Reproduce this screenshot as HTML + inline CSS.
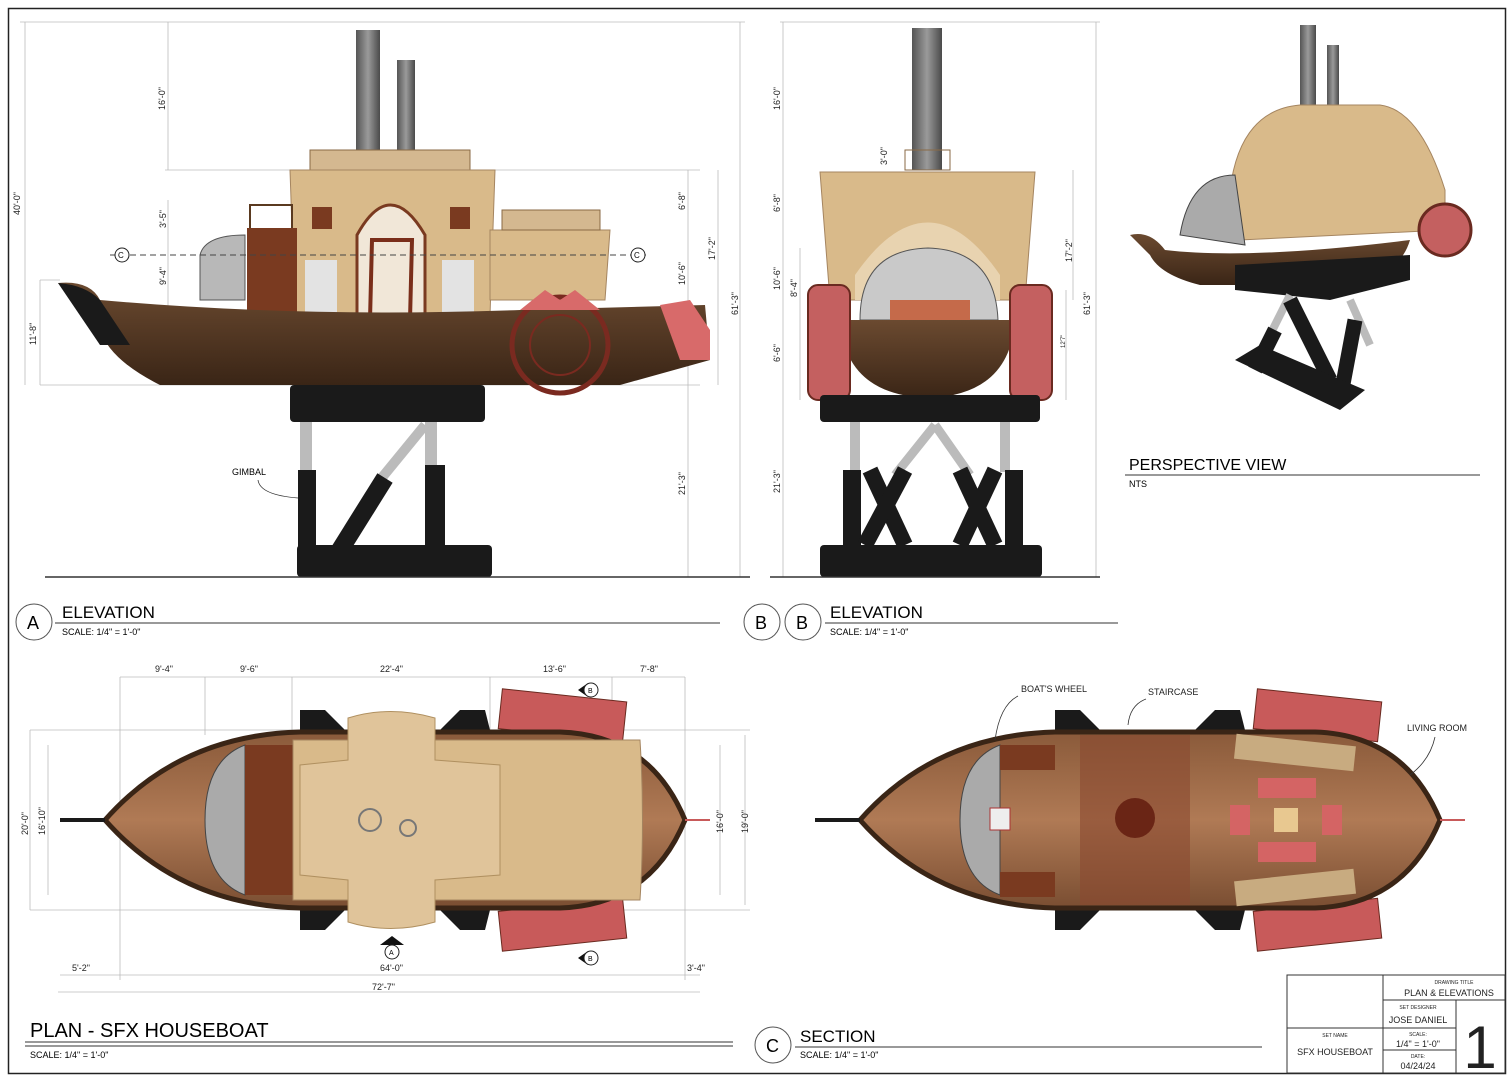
<!DOCTYPE html>
<html><head><meta charset="utf-8"><style>
html,body{margin:0;padding:0;background:#fff;}
svg{display:block;font-family:"Liberation Sans",sans-serif;}
</style></head><body>
<svg width="1512" height="1080" viewBox="0 0 1512 1080" xmlns="http://www.w3.org/2000/svg">
<defs>
<linearGradient id="hull" x1="0" y1="0" x2="0" y2="1"><stop offset="0" stop-color="#6b4a30"/><stop offset="1" stop-color="#3a2516"/></linearGradient>
<linearGradient id="stack" x1="0" y1="0" x2="1" y2="0"><stop offset="0" stop-color="#555"/><stop offset=".5" stop-color="#9a9a9a"/><stop offset="1" stop-color="#4a4a4a"/></linearGradient>
<linearGradient id="wood" x1="0" y1="0" x2="0" y2="1"><stop offset="0" stop-color="#8a5a3a"/><stop offset=".5" stop-color="#b07a55"/><stop offset="1" stop-color="#7a4e32"/></linearGradient>
</defs>
<rect x="8.5" y="8.5" width="1497" height="1065" fill="none" stroke="#222" stroke-width="1.5"/>

<!-- ===== ELEVATION A ===== -->
<g stroke="#bbb" stroke-width="0.8" fill="none">
<line x1="20" y1="22" x2="745" y2="22"/><line x1="165" y1="170" x2="700" y2="170"/>
<line x1="40" y1="280" x2="60" y2="280"/><line x1="40" y1="385" x2="700" y2="385"/>
<line x1="25" y1="22" x2="25" y2="385"/><line x1="40" y1="280" x2="40" y2="385"/>
<line x1="168" y1="22" x2="168" y2="170"/><line x1="168" y1="200" x2="168" y2="235"/><line x1="168" y1="235" x2="168" y2="310"/>
<line x1="688" y1="170" x2="688" y2="577"/><line x1="718" y1="170" x2="718" y2="385"/><line x1="740" y1="22" x2="740" y2="577"/>
</g>
<g font-size="9" fill="#222">
<text transform="translate(20,215) rotate(-90)">40'-0"</text>
<text transform="translate(36,345) rotate(-90)">11'-8"</text>
<text transform="translate(165,110) rotate(-90)">16'-0"</text>
<text transform="translate(166,228) rotate(-90)">3'-5"</text>
<text transform="translate(166,285) rotate(-90)">9'-4"</text>
<text transform="translate(685,210) rotate(-90)">6'-8"</text>
<text transform="translate(685,285) rotate(-90)">10'-6"</text>
<text transform="translate(685,365) rotate(-90)">6'-6"</text>
<text transform="translate(685,495) rotate(-90)">21'-3"</text>
<text transform="translate(715,260) rotate(-90)">17'-2"</text>
<text transform="translate(738,315) rotate(-90)">61'-3"</text>
</g>
<!-- stacks -->
<rect x="356" y="30" width="24" height="145" fill="url(#stack)"/>
<rect x="397" y="60" width="18" height="100" fill="url(#stack)"/>
<!-- cabin -->
<rect x="310" y="150" width="160" height="20" fill="#d4b890" stroke="#8a6a45"/>
<path d="M290 170 L495 170 L490 315 L295 315 Z" fill="#d9ba8a" stroke="#a58560"/>
<path d="M357 320 L357 235 Q390 175 425 235 L425 320 Z" fill="#f1e7d8" stroke="#7a3a20" stroke-width="3"/>
<rect x="305" y="260" width="32" height="55" fill="#e3e3e3"/><rect x="442" y="260" width="32" height="55" fill="#e3e3e3"/>
<rect x="312" y="207" width="20" height="22" fill="#7a3a20"/><rect x="450" y="207" width="20" height="22" fill="#7a3a20"/>
<path d="M370 320 L372 240 L412 240 L410 320" fill="none" stroke="#7a2e1a" stroke-width="4"/>
<path d="M490 230 L610 230 L605 300 L490 300 Z" fill="#d9ba8a" stroke="#a58560"/>
<rect x="502" y="210" width="98" height="20" fill="#d4b890" stroke="#8a6a45"/>
<rect x="250" y="205" width="42" height="25" fill="none" stroke="#5a3a20" stroke-width="2"/>
<rect x="247" y="228" width="50" height="90" fill="#7a3a20"/>
<path d="M200 300 L200 255 Q205 235 245 235 L245 300 Z" fill="#b8b8b8" stroke="#555"/>
<!-- hull -->
<path d="M58 283 Q90 280 100 300 Q300 318 520 310 L705 305 L710 360 L620 385 L160 385 Q110 360 100 330 Z" fill="url(#hull)"/>
<path d="M58 283 Q85 285 100 300 L130 345 L100 345 Z" fill="#1a1a1a"/>
<path d="M660 305 L690 300 L710 330 L710 360 L680 360 Z" fill="#d86a6a"/>
<circle cx="560" cy="345" r="48" fill="none" stroke="#7a2a20" stroke-width="5"/>
<circle cx="560" cy="345" r="30" fill="none" stroke="#7a2a20" stroke-width="2"/>
<path d="M520 310 L545 290 L560 300 L575 290 L600 310" fill="#d86a6a"/>
<!-- section line -->
<line x1="110" y1="255" x2="650" y2="255" stroke="#444" stroke-dasharray="6 4"/>
<circle cx="122" cy="255" r="7" fill="#fff" stroke="#222"/><text x="118" y="258" font-size="8">C</text>
<circle cx="638" cy="255" r="7" fill="#fff" stroke="#222"/><text x="634" y="258" font-size="8">C</text>
<!-- stand -->
<rect x="290" y="385" width="195" height="37" rx="4" fill="#1a1a1a"/>
<rect x="300" y="422" width="12" height="50" fill="#bbb"/><rect x="425" y="422" width="12" height="50" fill="#bbb"/>
<line x1="425" y1="425" x2="380" y2="480" stroke="#bbb" stroke-width="10"/>
<rect x="298" y="470" width="18" height="80" fill="#1a1a1a"/><rect x="425" y="465" width="20" height="85" fill="#1a1a1a"/>
<line x1="385" y1="478" x2="340" y2="550" stroke="#1a1a1a" stroke-width="18"/>
<rect x="297" y="545" width="195" height="32" rx="4" fill="#1a1a1a"/>
<line x1="45" y1="577" x2="750" y2="577" stroke="#333" stroke-width="1.5"/>
<text x="232" y="475" font-size="9">GIMBAL</text>
<path d="M258 480 Q260 495 298 498" fill="none" stroke="#333" stroke-width="0.8"/>
<circle cx="34" cy="622" r="18" fill="#fff" stroke="#555"/><text x="27" y="629" font-size="18">A</text>
<text x="62" y="618" font-size="17">ELEVATION</text>
<line x1="55" y1="623" x2="720" y2="623" stroke="#333"/>
<text x="62" y="635" font-size="9">SCALE: 1/4" = 1'-0"</text>

<!-- ===== ELEVATION B ===== -->
<g stroke="#bbb" stroke-width="0.8" fill="none">
<line x1="780" y1="22" x2="1100" y2="22"/><line x1="783" y1="22" x2="783" y2="577"/>
<line x1="1073" y1="170" x2="1073" y2="300"/><line x1="1096" y1="22" x2="1096" y2="577"/>
<line x1="800" y1="248" x2="800" y2="400"/><line x1="1066" y1="290" x2="1066" y2="400"/>
</g>
<g font-size="9" fill="#222">
<text transform="translate(780,110) rotate(-90)">16'-0"</text>
<text transform="translate(887,165) rotate(-90)">3'-0"</text>
<text transform="translate(780,212) rotate(-90)">6'-8"</text>
<text transform="translate(780,290) rotate(-90)">10'-6"</text>
<text transform="translate(797,297) rotate(-90)">8'-4"</text>
<text transform="translate(780,362) rotate(-90)">6'-6"</text>
<text transform="translate(780,493) rotate(-90)">21'-3"</text>
<text transform="translate(1072,262) rotate(-90)">17'-2"</text>
<text transform="translate(1090,315) rotate(-90)">61'-3"</text>
<text transform="translate(1065,348) rotate(-90)" font-size="6">12'7"</text>
</g>
<rect x="912" y="28" width="30" height="142" fill="url(#stack)"/>
<rect x="905" y="150" width="45" height="20" fill="none" stroke="#8a6a45"/>
<path d="M820 172 L1035 172 L1025 300 L830 300 Z" fill="#d9ba8a" stroke="#a58560"/>
<path d="M855 300 L855 275 Q928 170 1000 275 L1000 300 Z" fill="#e8d3b0"/>
<path d="M860 320 Q860 250 928 248 Q995 250 998 320 Z" fill="#c9c9c9" stroke="#555"/>
<rect x="890" y="300" width="80" height="20" fill="#c56a4a"/>
<path d="M840 320 L1015 320 Q1010 395 928 398 Q845 395 840 320 Z" fill="url(#hull)"/>
<rect x="808" y="285" width="42" height="115" rx="10" fill="#c46060" stroke="#6a2a20" stroke-width="2"/>
<rect x="1010" y="285" width="42" height="115" rx="10" fill="#c46060" stroke="#6a2a20" stroke-width="2"/>
<rect x="820" y="395" width="220" height="27" rx="4" fill="#1a1a1a"/>
<rect x="850" y="422" width="10" height="50" fill="#bbb"/><rect x="1000" y="422" width="10" height="50" fill="#bbb"/>
<line x1="935" y1="425" x2="895" y2="475" stroke="#bbb" stroke-width="9"/><line x1="935" y1="425" x2="970" y2="475" stroke="#bbb" stroke-width="9"/>
<rect x="843" y="470" width="18" height="80" fill="#1a1a1a"/><rect x="1005" y="470" width="18" height="80" fill="#1a1a1a"/>
<line x1="870" y1="470" x2="905" y2="545" stroke="#1a1a1a" stroke-width="16"/><line x1="905" y1="470" x2="865" y2="545" stroke="#1a1a1a" stroke-width="16"/>
<line x1="960" y1="470" x2="995" y2="545" stroke="#1a1a1a" stroke-width="16"/><line x1="995" y1="470" x2="960" y2="545" stroke="#1a1a1a" stroke-width="16"/>
<rect x="820" y="545" width="222" height="32" rx="4" fill="#1a1a1a"/>
<line x1="770" y1="577" x2="1100" y2="577" stroke="#333" stroke-width="1.5"/>
<circle cx="762" cy="622" r="18" fill="#fff" stroke="#555"/><text x="755" y="629" font-size="18">B</text>
<circle cx="803" cy="622" r="18" fill="#fff" stroke="#555"/><text x="796" y="629" font-size="18">B</text>
<text x="830" y="618" font-size="17">ELEVATION</text>
<line x1="825" y1="623" x2="1118" y2="623" stroke="#333"/>
<text x="830" y="635" font-size="9">SCALE: 1/4" = 1'-0"</text>

<!-- ===== PERSPECTIVE ===== -->
<rect x="1300" y="25" width="16" height="90" fill="url(#stack)"/><rect x="1327" y="45" width="12" height="70" fill="url(#stack)"/>
<path d="M1230 190 Q1240 110 1300 105 L1380 105 Q1420 110 1445 190 L1445 230 L1240 240 Z" fill="#d9ba8a" stroke="#a58560"/>
<path d="M1180 235 Q1190 175 1235 175 L1245 245 Z" fill="#aaa" stroke="#444"/>
<path d="M1130 235 Q1150 230 1165 250 Q1250 260 1410 240 Q1400 275 1350 285 L1200 285 Q1160 275 1150 255 Z" fill="url(#hull)"/>
<circle cx="1445" cy="230" r="26" fill="#c46060" stroke="#6a2a20" stroke-width="3"/>
<path d="M1235 265 L1410 255 L1410 280 L1330 300 L1235 290 Z" fill="#1a1a1a"/>
<line x1="1290" y1="295" x2="1265" y2="345" stroke="#bbb" stroke-width="8"/><line x1="1350" y1="300" x2="1370" y2="345" stroke="#bbb" stroke-width="8"/>
<line x1="1290" y1="300" x2="1330" y2="380" stroke="#1a1a1a" stroke-width="15"/><line x1="1275" y1="330" x2="1255" y2="370" stroke="#1a1a1a" stroke-width="15"/>
<line x1="1355" y1="320" x2="1340" y2="400" stroke="#1a1a1a" stroke-width="15"/>
<path d="M1235 360 L1260 345 L1365 390 L1340 410 Z" fill="#1a1a1a"/>
<text x="1129" y="470" font-size="16">PERSPECTIVE VIEW</text>
<line x1="1125" y1="475" x2="1480" y2="475" stroke="#333"/>
<text x="1129" y="487" font-size="9">NTS</text>

<!-- ===== PLAN ===== -->
<g stroke="#bbb" stroke-width="0.8" fill="none">
<line x1="120" y1="677" x2="685" y2="677"/>
<line x1="120" y1="677" x2="120" y2="980"/><line x1="205" y1="677" x2="205" y2="735"/><line x1="292" y1="677" x2="292" y2="735"/>
<line x1="490" y1="677" x2="490" y2="735"/><line x1="612" y1="677" x2="612" y2="735"/><line x1="685" y1="677" x2="685" y2="980"/>
<line x1="30" y1="730" x2="750" y2="730"/><line x1="30" y1="910" x2="750" y2="910"/>
<line x1="30" y1="730" x2="30" y2="910"/><line x1="48" y1="745" x2="48" y2="895"/>
<line x1="720" y1="745" x2="720" y2="895"/><line x1="745" y1="735" x2="745" y2="905"/>
<line x1="60" y1="975" x2="700" y2="975"/><line x1="58" y1="992" x2="700" y2="992"/>
</g>
<g font-size="9" fill="#222">
<text x="155" y="672">9'-4"</text><text x="240" y="672">9'-6"</text><text x="380" y="672">22'-4"</text>
<text x="543" y="672">13'-6"</text><text x="640" y="672">7'-8"</text>
<text transform="translate(28,835) rotate(-90)">20'-0"</text><text transform="translate(45,835) rotate(-90)">16'-10"</text>
<text transform="translate(723,833) rotate(-90)">16'-0"</text><text transform="translate(748,833) rotate(-90)">19'-0"</text>
<text x="72" y="971">5'-2"</text><text x="380" y="971">64'-0"</text><text x="687" y="971">3'-4"</text><text x="372" y="990">72'-7"</text>
</g>
<rect x="500" y="695" width="125" height="40" fill="#c85a5a" stroke="#6a2a20" transform="rotate(6 560 715)"/>
<rect x="500" y="905" width="125" height="40" fill="#c85a5a" stroke="#6a2a20" transform="rotate(-6 560 925)"/>
<path d="M300 710 L325 710 L345 730 L440 730 L460 710 L485 710 L490 730 L490 910 L485 930 L460 930 L440 910 L345 910 L325 930 L300 930 Z" fill="#1a1a1a"/>
<path d="M105 820 Q180 735 300 732 L560 732 Q650 735 685 820 Q650 905 560 908 L300 908 Q180 905 105 820 Z" fill="url(#wood)" stroke="#3a2516" stroke-width="5"/>
<line x1="60" y1="820" x2="105" y2="820" stroke="#1a1a1a" stroke-width="4"/>
<line x1="685" y1="820" x2="710" y2="820" stroke="#c85a5a" stroke-width="2"/>
<path d="M205 820 Q205 760 245 745 L245 895 Q205 880 205 820 Z" fill="#aaa" stroke="#444"/>
<rect x="245" y="745" width="48" height="150" fill="#7a3a20"/>
<path d="M293 740 L640 740 Q645 820 640 900 L293 900 Z" fill="#d9ba8a" stroke="#a58560"/>
<path d="M348 718 Q390 705 435 718 L435 760 L500 765 L500 875 L435 880 L435 922 Q390 935 348 922 L348 880 L300 875 L300 765 L348 760 Z" fill="#e0c49a" stroke="#b09060"/>
<circle cx="370" cy="820" r="11" fill="none" stroke="#777" stroke-width="2"/><circle cx="408" cy="828" r="8" fill="none" stroke="#777" stroke-width="2"/>
<path d="M380 945 L392 936 L404 945 Z" fill="#111"/><circle cx="392" cy="952" r="7" fill="#fff" stroke="#222"/><text x="389" y="955" font-size="7">A</text>
<path d="M578 690 L588 683 L588 697 Z" fill="#111"/><circle cx="591" cy="690" r="7" fill="#fff" stroke="#222"/><text x="588" y="693" font-size="7">B</text>
<path d="M578 958 L588 951 L588 965 Z" fill="#111"/><circle cx="591" cy="958" r="7" fill="#fff" stroke="#222"/><text x="588" y="961" font-size="7">B</text>
<text x="30" y="1037" font-size="20">PLAN - SFX HOUSEBOAT</text>
<line x1="25" y1="1042" x2="733" y2="1042" stroke="#333"/><line x1="25" y1="1046" x2="733" y2="1046" stroke="#333"/>
<text x="30" y="1058" font-size="9">SCALE: 1/4" = 1'-0"</text>

<!-- ===== SECTION ===== -->
<rect x="1255" y="695" width="125" height="40" fill="#c85a5a" stroke="#6a2a20" transform="rotate(6 1315 715)"/>
<rect x="1255" y="905" width="125" height="40" fill="#c85a5a" stroke="#6a2a20" transform="rotate(-6 1315 925)"/>
<path d="M1055 710 L1080 710 L1100 730 L1195 730 L1215 710 L1240 710 L1245 730 L1245 910 L1240 930 L1215 930 L1195 910 L1100 910 L1080 930 L1055 930 Z" fill="#1a1a1a"/>
<path d="M860 820 Q935 735 1055 732 L1315 732 Q1405 735 1440 820 Q1405 905 1315 908 L1055 908 Q935 905 860 820 Z" fill="url(#wood)" stroke="#3a2516" stroke-width="5"/>
<line x1="815" y1="820" x2="860" y2="820" stroke="#1a1a1a" stroke-width="4"/><line x1="1440" y1="820" x2="1465" y2="820" stroke="#c85a5a" stroke-width="2"/>
<path d="M960 820 Q960 760 1000 745 L1000 895 Q960 880 960 820 Z" fill="#aaa" stroke="#444"/>
<rect x="1000" y="745" width="55" height="25" fill="#7a3a20"/><rect x="1000" y="872" width="55" height="25" fill="#7a3a20"/>
<rect x="1080" y="735" width="110" height="170" fill="#8a4a30" opacity=".6"/>
<circle cx="1135" cy="818" r="20" fill="#6a2515"/>
<rect x="1235" y="740" width="120" height="25" fill="#c8ab80" transform="rotate(6 1295 752)"/>
<rect x="1235" y="875" width="120" height="25" fill="#c8ab80" transform="rotate(-6 1295 887)"/>
<rect x="1258" y="778" width="58" height="20" fill="#d46464"/><rect x="1258" y="842" width="58" height="20" fill="#d46464"/>
<rect x="1230" y="805" width="20" height="30" fill="#d46464"/><rect x="1322" y="805" width="20" height="30" fill="#d46464"/>
<rect x="1274" y="808" width="24" height="24" fill="#e8c890"/>
<rect x="990" y="808" width="20" height="22" fill="#eee" stroke="#a33"/>
<g font-size="9" fill="#222"><text x="1021" y="692">BOAT'S WHEEL</text><text x="1148" y="695">STAIRCASE</text><text x="1407" y="731">LIVING ROOM</text></g>
<g fill="none" stroke="#333" stroke-width="0.8"><path d="M1018 696 Q1000 705 995 740"/><path d="M1146 699 Q1130 705 1128 725"/><path d="M1435 737 Q1430 760 1410 775"/></g>
<circle cx="773" cy="1045" r="18" fill="#fff" stroke="#555"/><text x="766" y="1052" font-size="18">C</text>
<text x="800" y="1042" font-size="17">SECTION</text>
<line x1="795" y1="1047" x2="1262" y2="1047" stroke="#333"/>
<text x="800" y="1058" font-size="9">SCALE: 1/4" = 1'-0"</text>

<!-- ===== TITLE BLOCK ===== -->
<g fill="none" stroke="#333" stroke-width="1">
<rect x="1287" y="975" width="218" height="98"/>
<line x1="1383" y1="975" x2="1383" y2="1073"/><line x1="1456" y1="1000" x2="1456" y2="1073"/>
<line x1="1383" y1="1000" x2="1505" y2="1000"/><line x1="1383" y1="1028" x2="1456" y2="1028"/>
<line x1="1287" y1="1028" x2="1383" y2="1028"/><line x1="1383" y1="1050" x2="1456" y2="1050"/>
</g>
<g fill="#222" text-anchor="middle">
<text x="1454" y="984" font-size="5">DRAWING TITLE</text>
<text x="1449" y="996" font-size="9">PLAN &amp; ELEVATIONS</text>
<text x="1418" y="1009" font-size="5">SET DESIGNER</text>
<text x="1418" y="1023" font-size="9">JOSE DANIEL</text>
<text x="1335" y="1037" font-size="5">SET NAME</text>
<text x="1335" y="1055" font-size="9">SFX HOUSEBOAT</text>
<text x="1418" y="1036" font-size="5">SCALE:</text>
<text x="1418" y="1047" font-size="9">1/4" = 1'-0"</text>
<text x="1418" y="1058" font-size="5">DATE:</text>
<text x="1418" y="1069" font-size="9">04/24/24</text>
<text x="1480" y="1068" font-size="60">1</text>
</g>
</svg>
</body></html>
